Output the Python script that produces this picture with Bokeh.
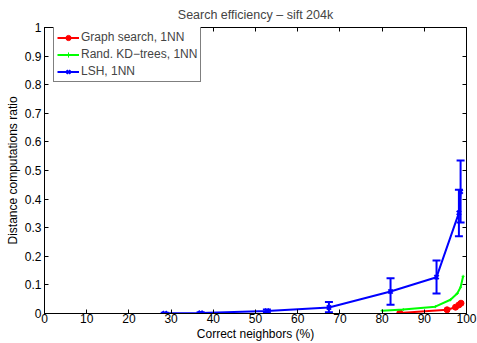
from bokeh.plotting import figure
from bokeh.models import Range1d, LinearAxis, Whisker, ColumnDataSource, Legend, LegendItem, FixedTicker, TeeHead, Title
from bokeh.embed import file_html
from bokeh.resources import INLINE

# Data
graph_x = [84.2, 95.4, 97.4, 98.2, 98.7]
graph_y = [0.002, 0.013, 0.022, 0.030, 0.036]

kd_x = [80.0, 85.0, 92.6, 96.2, 97.8, 98.6, 99.2]
kd_y = [0.010, 0.014, 0.024, 0.048, 0.070, 0.092, 0.130]

lsh_x = [28.5, 37.0, 52.7, 67.4, 82.0, 92.9, 98.2, 98.6]
lsh_y = [0.001, 0.002, 0.009, 0.021, 0.077, 0.127, 0.352, 0.426]
lsh_lo = [0.000, 0.000, 0.004, 0.004, 0.031, 0.070, 0.270, 0.318]
lsh_hi = [0.003, 0.004, 0.014, 0.040, 0.123, 0.185, 0.433, 0.535]

x_ticks = list(range(0, 101, 10))
y_ticks = [0, 0.1, 0.2, 0.3, 0.4, 0.5, 0.6, 0.7, 0.8, 0.9, 1]
y_tick_labels = {0: "0", 0.1: "0.1", 0.2: "0.2", 0.3: "0.3", 0.4: "0.4", 0.5: "0.5",
                 0.6: "0.6", 0.7: "0.7", 0.8: "0.8", 0.9: "0.9", 1: "1"}

FONT = "Liberation Sans"
FS = "12px"

p = figure(width=477, height=343, output_backend="svg", toolbar_location=None,
           x_range=Range1d(0, 100), y_range=Range1d(0, 1),
           min_border_left=44, min_border_right=11, min_border_top=27, min_border_bottom=30)
p.title = Title(text="Search efficiency \u2013 sift 204k", align="center", vertical_align="top",
                text_font=FONT, text_font_size="12.5px", text_font_style="normal", offset=0, standoff=8)
p.grid.visible = False
p.outline_line_color = "black"
p.outline_line_width = 1

for ax in [p.xaxis[0], p.yaxis[0]]:
    ax.major_tick_in = 4
    ax.major_tick_out = 0
    ax.minor_tick_line_color = None
    ax.axis_line_color = "black"
    ax.major_tick_line_color = "black"
    ax.major_label_text_font = FONT
    ax.major_label_text_font_size = FS
    ax.major_label_text_color = "black"
    ax.axis_label_text_font = FONT
    ax.axis_label_text_font_size = FS
    ax.axis_label_text_font_style = "normal"
    ax.axis_label_text_color = "black"

p.xaxis.major_label_standoff = 0
p.xaxis.axis_label_standoff = 1
p.yaxis.major_label_standoff = 3
p.yaxis.axis_label_standoff = 2

p.xaxis.ticker = FixedTicker(ticks=x_ticks)
p.yaxis.ticker = FixedTicker(ticks=y_ticks)
p.yaxis.major_label_overrides = y_tick_labels
p.xaxis.axis_label = "Correct neighbors (%)"
p.yaxis.axis_label = "Distance computations ratio"

top = LinearAxis(ticker=FixedTicker(ticks=x_ticks), major_tick_in=4, major_tick_out=0,
                 minor_tick_line_color=None, major_label_text_font_size="1px",
                 major_label_text_color=None, major_label_standoff=0)
right = LinearAxis(ticker=FixedTicker(ticks=y_ticks), major_tick_in=4, major_tick_out=0,
                   minor_tick_line_color=None, major_label_text_font_size="1px",
                   major_label_text_color=None, major_label_standoff=0)
p.add_layout(top, "above")
p.add_layout(right, "right")

src = ColumnDataSource(dict(x=lsh_x, y=lsh_y, lo=lsh_lo, hi=lsh_hi))
wh = Whisker(source=src, base="x", lower="lo", upper="hi", line_color="#0000ff", line_width=2,
             upper_head=TeeHead(size=8, line_color="#0000ff", line_width=2),
             lower_head=TeeHead(size=8, line_color="#0000ff", line_width=2))
p.add_layout(wh)

g_l = p.line(graph_x, graph_y, line_color="#ff0000", line_width=2)
g_m = p.scatter(graph_x, graph_y, marker="circle", size=6, line_color="#ff0000", fill_color="#ff0000")
k_l = p.line(kd_x, kd_y, line_color="#00ff00", line_width=2)
k_m = p.scatter(kd_x, kd_y, marker="cross", size=3, line_color="#00ff00", line_width=1)
l_l = p.line(lsh_x, lsh_y, line_color="#0000ff", line_width=2)
l_m = p.scatter("x", "y", source=src, marker="x", size=6, line_color="#0000ff", line_width=2)

legend = Legend(items=[
    LegendItem(label="Graph search, 1NN", renderers=[g_l, g_m]),
    LegendItem(label="Rand. KD\u2212trees, 1NN", renderers=[k_l, k_m]),
    LegendItem(label="LSH, 1NN", renderers=[l_l, l_m]),
], location=(9, 231), margin=0, padding=3, spacing=3,
    label_text_font=FONT, label_text_font_size=FS, label_height=13, glyph_height=13,
    glyph_width=22, label_standoff=2, border_line_color="black", border_line_width=1,
    background_fill_color="white", background_fill_alpha=1)
p.add_layout(legend, "center")

open("out.html", "w").write(file_html(p, INLINE))
